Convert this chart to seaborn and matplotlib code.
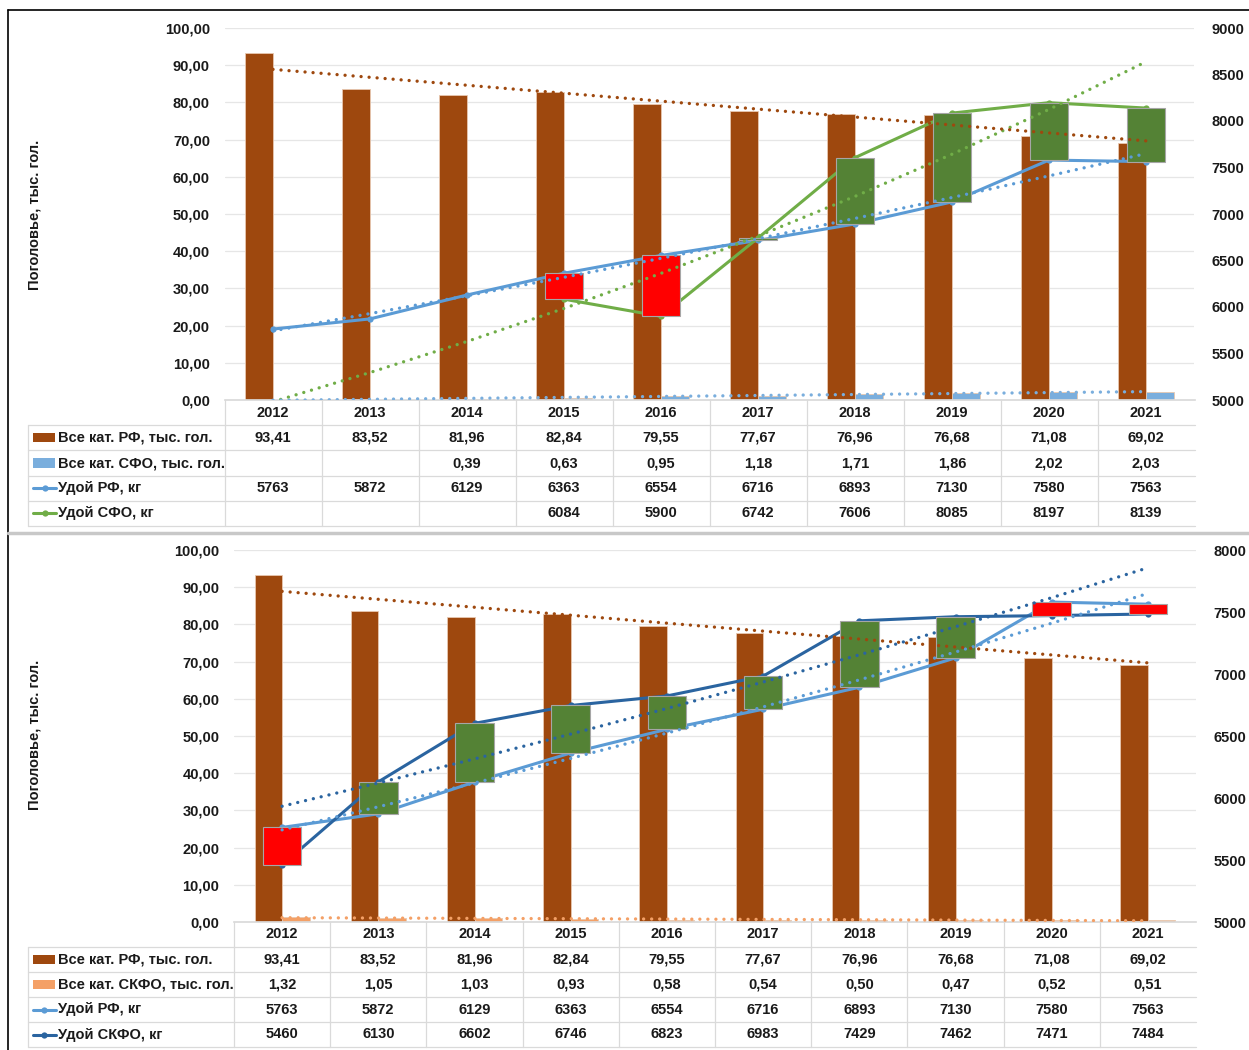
import numpy as np
import pandas as pd
import matplotlib
matplotlib.use('Agg')
import matplotlib.pyplot as plt
from matplotlib.patches import Rectangle
from matplotlib.lines import Line2D
from matplotlib.ticker import FuncFormatter, MultipleLocator
import seaborn as sns

# данные
years = ['2012', '2013', '2014', '2015', '2016', '2017', '2018', '2019', '2020', '2021']
herd_rf = [93.41, 83.52, 81.96, 82.84, 79.55, 77.67, 76.96, 76.68, 71.08, 69.02]
herd_sfo = [np.nan, np.nan, 0.39, 0.63, 0.95, 1.18, 1.71, 1.86, 2.02, 2.03]
herd_skfo = [1.32, 1.05, 1.03, 0.93, 0.58, 0.54, 0.50, 0.47, 0.52, 0.51]
milk_rf = [5763, 5872, 6129, 6363, 6554, 6716, 6893, 7130, 7580, 7563]
milk_sfo = [np.nan, np.nan, np.nan, 6084, 5900, 6742, 7606, 8085, 8197, 8139]
milk_skfo = [5460, 6130, 6602, 6746, 6823, 6983, 7429, 7462, 7471, 7484]

name_herd_rf = 'Все кат. РФ, тыс. гол.'
name_herd_sfo = 'Все кат. СФО, тыс. гол.'
name_herd_skfo = 'Все кат. СКФО, тыс. гол.'
name_milk_rf = 'Удой РФ, кг'
name_milk_sfo = 'Удой СФО, кг'
name_milk_skfo = 'Удой СКФО, кг'

brown = '#9E480E'
light_blue = '#5B9BD5'
bar_blue = '#7AAEDD'
green = '#70AD47'
dark_blue = '#2A64A0'
orange = '#F4A066'
up_color = '#548235'
down_color = '#FF0000'
grid_col = '#DADADA'
txt_col = '#1A1A1A'

sns.set_theme(style='white')
plt.rcParams['font.family'] = ['Liberation Sans', 'DejaVu Sans']
plt.rcParams['font.weight'] = 'bold'
plt.rcParams['text.color'] = txt_col

W, H = 1249, 1050
fig = plt.figure(figsize=(W / 100, H / 100), dpi=100)
FS = 10.5
dot = (0, (0.01, 2.4))


def box(l, t, r, b):
    return [l / W, 1 - b / H, (r - l) / W, (b - t) / H]


def trend(y, kind):
    y = np.asarray(y, float)
    x = np.arange(len(y))
    ok = ~np.isnan(y)
    if kind == 'exp':
        k, c = np.polyfit(x[ok], np.log(y[ok]), 1)
        return x, np.exp(c + k * x)
    k, c = np.polyfit(x[ok], y[ok], 1)
    return x, c + k * x


def fmt_val(v, dec):
    if np.isnan(v):
        return ''
    if dec:
        return f'{v:.2f}'.replace('.', ',')
    return f'{int(v)}'


def panel(geom, herd2, name_h2, col_h2, milk2, name_m2, col_m2, rlim, label_y):
    left, right, top, bottom, tbottom = geom
    n = len(years)
    pos = np.arange(n)

    # столбцы поголовья
    ax = fig.add_axes(box(left, top, right, bottom))
    bars = pd.DataFrame({
        'year': years * 2,
        'value': list(herd_rf) + list(herd2),
        'series': [name_herd_rf] * n + [name_h2] * n,
    })
    sns.barplot(data=bars, x='year', y='value', hue='series',
                hue_order=[name_herd_rf, name_h2], palette=[brown, col_h2],
                width=0.57, saturation=1, errorbar=None, legend=False, ax=ax,
                edgecolor='#E8C8B0', linewidth=0.6)
    ax.set_xlim(-0.5, n - 0.5)
    ax.set_ylim(0, 100)
    ax.yaxis.set_major_locator(MultipleLocator(10))
    ax.yaxis.set_major_formatter(FuncFormatter(lambda v, p: f'{v:.2f}'.replace('.', ',')))
    ax.set_xticks([])
    ax.set_xlabel('')
    ax.set_ylabel('')
    ax.yaxis.grid(True, color='#E6E6E6', lw=0.9)
    ax.set_axisbelow(True)
    ax.tick_params(axis='y', length=0, pad=10.5, labelsize=FS, labelcolor=txt_col)
    for s in ['left', 'right', 'top']:
        ax.spines[s].set_visible(False)
    ax.spines['bottom'].set_color(grid_col)

    # удой на вспомогательной оси
    ax2 = ax.twinx()
    lines = pd.DataFrame({
        'pos': list(pos) * 2,
        'value': list(milk_rf) + list(milk2),
        'series': [name_milk_rf] * n + [name_m2] * n,
    }).dropna()
    sns.lineplot(data=lines, x='pos', y='value', hue='series',
                 hue_order=[name_milk_rf, name_m2], palette=[light_blue, col_m2],
                 marker='o', markersize=4.5, markeredgewidth=0, linewidth=2.2,
                 errorbar=None, legend=False, ax=ax2, zorder=2)

    # повышающие / понижающие полосы
    a = np.asarray(milk_rf, float)
    b = np.asarray(milk2, float)
    ok = ~np.isnan(b)
    lo = np.minimum(a, b)[ok]
    hi = np.maximum(a, b)[ok]
    cols = [up_color if bb > aa else down_color for aa, bb in zip(a[ok], b[ok])]
    ax2.bar(pos[ok], hi - lo, bottom=lo, width=0.4, color=cols,
            edgecolor='#A6A6A6', linewidth=0.8, zorder=3)

    for y, c in [(milk_rf, light_blue), (milk2, col_m2)]:
        tx, ty = trend(y, 'exp')
        ax2.plot(tx, ty, color=c, lw=2.4, linestyle=dot, dash_capstyle='round', zorder=4)

    ax2.set_xlim(-0.5, n - 0.5)
    ax2.set_ylim(*rlim)
    ax2.yaxis.set_major_locator(MultipleLocator(500))
    ax2.yaxis.set_major_formatter(FuncFormatter(lambda v, p: f'{int(v)}'))
    ax2.tick_params(axis='y', length=0, pad=12.5, labelsize=FS, labelcolor=txt_col)
    ax2.set_xlabel('')
    ax2.set_ylabel('')
    for s in ax2.spines.values():
        s.set_visible(False)

    # линии тренда поголовья поверх всего
    ax3 = ax.twinx()
    ax3.set_xlim(-0.5, n - 0.5)
    ax3.set_ylim(0, 100)
    ax3.axis('off')
    for y, c in [(herd_rf, brown), (herd2, col_h2)]:
        tx, ty = trend(y, 'lin')
        ax3.plot(tx, ty, color=c, lw=2.4, linestyle=dot, dash_capstyle='round')

    # таблица данных
    cat_px = (right - left) / n
    x_lo = -0.5 - (left - 28) / cat_px

    def px2x(p):
        return x_lo + (p - 28) / cat_px

    tax = fig.add_axes(box(28, bottom, right, tbottom))
    tax.set_xlim(x_lo, n - 0.5)
    tax.set_ylim(5, 0)
    tax.axis('off')
    for r in range(1, 6):
        tax.plot([x_lo, n - 0.5], [r, r], color=grid_col, lw=0.9, clip_on=False)
    tax.plot([x_lo, x_lo], [1, 5], color=grid_col, lw=0.9, clip_on=False)
    for xv in np.arange(-0.5, n - 1, 1.0):
        tax.plot([xv, xv], [0, 5], color=grid_col, lw=0.9, clip_on=False)
    for i, yr in enumerate(years):
        tax.text(i, 0.5, yr, ha='center', va='center', fontsize=FS)

    rows = [
        (name_herd_rf, herd_rf, brown, 'bar', True),
        (name_h2, herd2, col_h2, 'bar', True),
        (name_milk_rf, milk_rf, light_blue, 'line', False),
        (name_m2, milk2, col_m2, 'line', False),
    ]
    for r, (name, vals, c, kind, dec) in enumerate(rows, start=1):
        yc = r + 0.5
        if kind == 'bar':
            tax.add_patch(Rectangle((px2x(33), yc - 0.18), px2x(55) - px2x(33), 0.36,
                                    color=c, lw=0))
        else:
            tax.plot([px2x(33), px2x(56)], [yc, yc], color=c, lw=2.2)
            tax.plot([px2x(44.5)], [yc], 'o', color=c, ms=4.5, mew=0)
        tax.text(px2x(58), yc, name, ha='left', va='center', fontsize=FS)
        for i, v in enumerate(vals):
            tax.text(i, yc, fmt_val(float(v), dec), ha='center', va='center', fontsize=FS)

    fig.text(35 / W, 1 - label_y / H, 'Поголовье, тыс. гол.', rotation=90,
             ha='center', va='center', fontsize=FS)


panel((224.5, 1194.5, 28, 400, 526), herd_sfo, name_herd_sfo, bar_blue,
      milk_sfo, name_milk_sfo, green, (5000, 9000), 215)
panel((234, 1196, 550, 922, 1047), herd_skfo, name_herd_skfo, orange,
      milk_skfo, name_milk_skfo, dark_blue, (5000, 8000), 735)

# рамка и разделитель
fig.add_artist(Line2D([8 / W, 8 / W], [0, 1 - 10 / H], color='black', lw=1.2))
fig.add_artist(Line2D([8 / W, 1], [1 - 10 / H, 1 - 10 / H], color='black', lw=1.2))
fig.add_artist(Line2D([8 / W, 1], [1 - 533 / H, 1 - 533 / H], color='#C8C8C8', lw=2.5))

fig.savefig('out.png', dpi=100, facecolor='white')
